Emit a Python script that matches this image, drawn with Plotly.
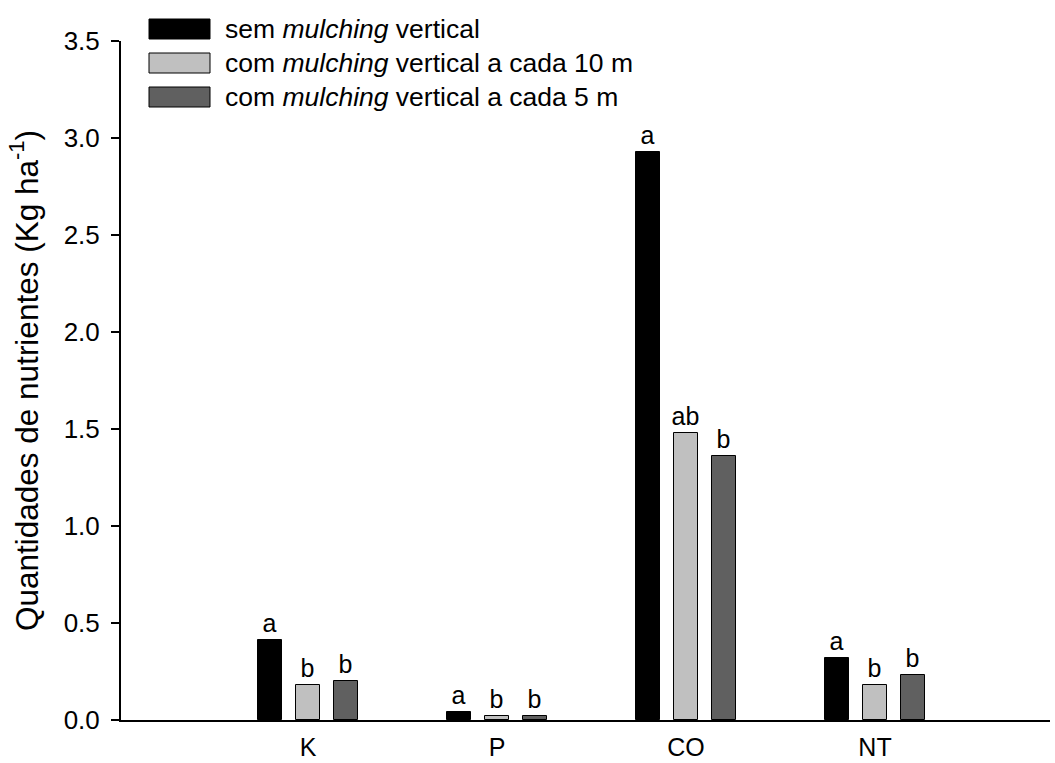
import plotly.graph_objects as go

categories = ["K", "P", "CO", "NT"]
sem = [0.41, 0.04, 2.93, 0.32]
com10 = [0.18, 0.02, 1.48, 0.18]
com5 = [0.20, 0.022, 1.36, 0.23]
letters_sem = ["a", "a", "a", "a"]
letters_10 = ["b", "b", "ab", "b"]
letters_5 = ["b", "b", "b", "b"]
names = ["sem <i>mulching</i> vertical",
         "com <i>mulching</i> vertical a cada 10 m",
         "com <i>mulching</i> vertical a cada 5 m"]
colors = ["#000000", "#c0c0c0", "#606060"]
ytick_vals = [0, 0.5, 1.0, 1.5, 2.0, 2.5, 3.0, 3.5]
ytick_text = ["0.0", "0.5", "1.0", "1.5", "2.0", "2.5", "3.0", "3.5"]

W, H = 1055, 763
L, R, T, B = 121, 5, 41, 43
pw, ph = W - L - R, H - T - B
FONT = "Liberation Sans, Arial, sans-serif"

bw = 0.125
offsets = [-0.2 - bw / 2, -bw / 2, 0.2 - bw / 2]

fig = go.Figure()
for vals, labs, col, off, nm in zip([sem, com10, com5],
                                    [letters_sem, letters_10, letters_5],
                                    colors, offsets, names):
    fig.add_trace(go.Bar(
        x=categories, y=vals, width=bw, offset=off, name=nm,
        marker=dict(color=col, line=dict(color="#000000", width=1)),
        text=labs, textposition="outside", constraintext="none",
        textfont=dict(family=FONT, size=25, color="#000000"),
        cliponaxis=False, showlegend=False, hoverinfo="skip"))

# custom legend (swatch + label)
rows_y = [29, 63, 97]
shapes = []
annotations = []
for yc, col, nm in zip(rows_y, colors, names):
    shapes.append(dict(type="rect", xref="paper", yref="paper",
                       x0=(149 - L) / pw, x1=(210 - L) / pw,
                       y0=(H - B - (yc + 10)) / ph, y1=(H - B - (yc - 10)) / ph,
                       fillcolor=col, line=dict(color="#000000", width=1)))
    annotations.append(dict(xref="paper", yref="paper",
                            x=(223 - L) / pw, y=(H - B - yc) / ph,
                            xanchor="left", yanchor="middle", showarrow=False,
                            text=nm, font=dict(family=FONT, size=26.5, color="#000000")))

fig.update_layout(
    width=W, height=H,
    margin=dict(l=L, r=R, t=T, b=B, pad=0, autoexpand=False),
    plot_bgcolor="white", paper_bgcolor="white",
    barmode="overlay", bargap=0,
    shapes=shapes, annotations=annotations,
    font=dict(family=FONT, color="#000000"),
    xaxis=dict(type="category", range=[-0.99, 3.926],
               showline=True, linecolor="#000000", linewidth=2,
               ticks="", showgrid=False, zeroline=False,
               tickfont=dict(family=FONT, size=25, color="#000000"),
               ticklabelstandoff=4),
    yaxis=dict(range=[0, 3.5], tickvals=ytick_vals, ticktext=ytick_text,
               showline=True, linecolor="#000000", linewidth=2,
               ticks="outside", ticklen=8, tickwidth=1.5, tickcolor="#000000",
               ticklabelstandoff=6,
               showgrid=False, zeroline=False,
               tickfont=dict(family=FONT, size=26, color="#000000"),
               title=dict(text="Quantidades de nutrientes (Kg ha<sup>-1</sup>)",
                          font=dict(family=FONT, size=31.5, color="#000000"),
                          standoff=16)),
)

fig.write_html("out.html", config={"displayModeBar": False},
               post_script="document.body.style.margin='0';document.body.style.overflow='hidden';")
